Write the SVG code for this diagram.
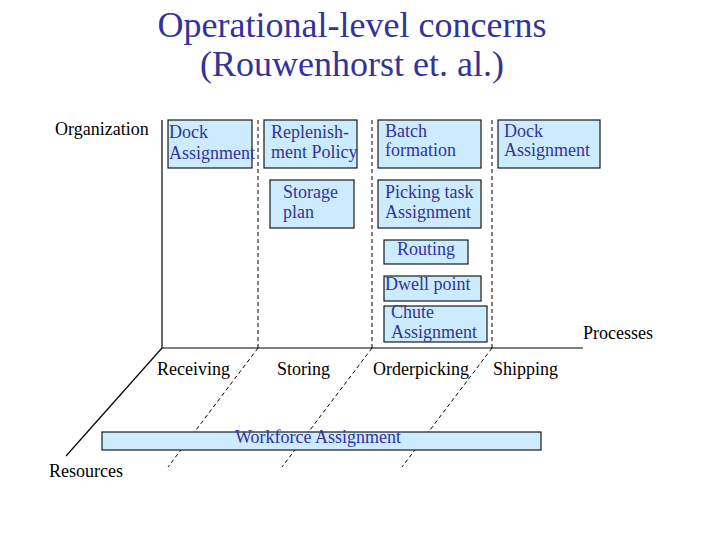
<svg xmlns="http://www.w3.org/2000/svg" width="720" height="540" viewBox="0 0 720 540">
<style>
text{font-family:"Liberation Serif","Times New Roman",serif;}
.t{font-size:36px;fill:#33339a;text-anchor:middle;}
.lbl{font-size:18px;fill:#000;}
.box{fill:#cdebff;stroke:#1a1a1a;stroke-width:1.2;}
.bt{font-size:18px;fill:#33339a;}
.ax{stroke:#000;stroke-width:1.2;fill:none;}
.dash{stroke:#000;stroke-width:1;stroke-dasharray:4 3;fill:none;}
</style>
<rect width="720" height="540" fill="#fff"/>
<g id="title">
<text class="t" x="352" y="37">Operational-level concerns</text>
<text class="t" x="352" y="76">(Rouwenhorst et. al.)</text>
</g>
<g id="connectors">
<line class="ax" x1="162" y1="120" x2="162" y2="348"/>
<line class="ax" x1="162" y1="348" x2="583" y2="348"/>
<line class="ax" x1="162" y1="348" x2="66" y2="456"/>
<line class="dash" x1="258" y1="120" x2="258" y2="348"/>
<line class="dash" x1="372" y1="120" x2="372" y2="348"/>
<line class="dash" x1="492" y1="120" x2="492" y2="348"/>
<line class="dash" x1="258" y1="348" x2="168" y2="467"/>
<line class="dash" x1="372" y1="348" x2="282" y2="467"/>
<line class="dash" x1="492" y1="348" x2="402" y2="467"/>
</g>
<g id="axis-labels">
<text class="lbl" x="55" y="135">Organization</text>
<text class="lbl" x="583" y="339">Processes</text>
<text class="lbl" x="49" y="477">Resources</text>
<text class="lbl" x="157" y="375">Receiving</text>
<text class="lbl" x="277" y="375">Storing</text>
<text class="lbl" x="373" y="375">Orderpicking</text>
<text class="lbl" x="493" y="375">Shipping</text>
</g>
<g id="dock-assignment-receiving">
<rect class="box" x="168" y="120" width="84" height="48"/>
<text class="bt" x="169" y="138">Dock</text>
<text class="bt" x="169" y="159">Assignment</text>
</g>
<g id="replenishment-policy">
<rect class="box" x="264" y="120" width="93" height="48"/>
<text class="bt" x="271" y="138">Replenish-</text>
<text class="bt" x="271" y="158">ment Policy</text>
</g>
<g id="storage-plan">
<rect class="box" x="270" y="180" width="84" height="48"/>
<text class="bt" x="283" y="198">Storage</text>
<text class="bt" x="283" y="218">plan</text>
</g>
<g id="batch-formation">
<rect class="box" x="378" y="120" width="103" height="48"/>
<text class="bt" x="385" y="137">Batch</text>
<text class="bt" x="385" y="156">formation</text>
</g>
<g id="dock-assignment-shipping">
<rect class="box" x="498" y="120" width="102" height="48"/>
<text class="bt" x="504" y="137">Dock</text>
<text class="bt" x="504" y="156">Assignment</text>
</g>
<g id="picking-task-assignment">
<rect class="box" x="378" y="180" width="103" height="48"/>
<text class="bt" x="385" y="198">Picking task</text>
<text class="bt" x="385" y="218">Assignment</text>
</g>
<g id="routing">
<rect class="box" x="384" y="240" width="84" height="24"/>
<text class="bt" x="397" y="255">Routing</text>
</g>
<g id="dwell-point">
<rect class="box" x="384" y="276" width="97" height="25"/>
<text class="bt" x="385" y="290">Dwell point</text>
</g>
<g id="chute-assignment">
<rect class="box" x="384" y="306" width="103" height="36"/>
<text class="bt" x="391" y="318">Chute</text>
<text class="bt" x="391" y="338">Assignment</text>
</g>
<g id="workforce-assignment">
<rect class="box" x="102" y="432" width="439" height="18"/>
<text class="bt" x="318" y="443" text-anchor="middle">Workforce Assignment</text>
</g>
</svg>
